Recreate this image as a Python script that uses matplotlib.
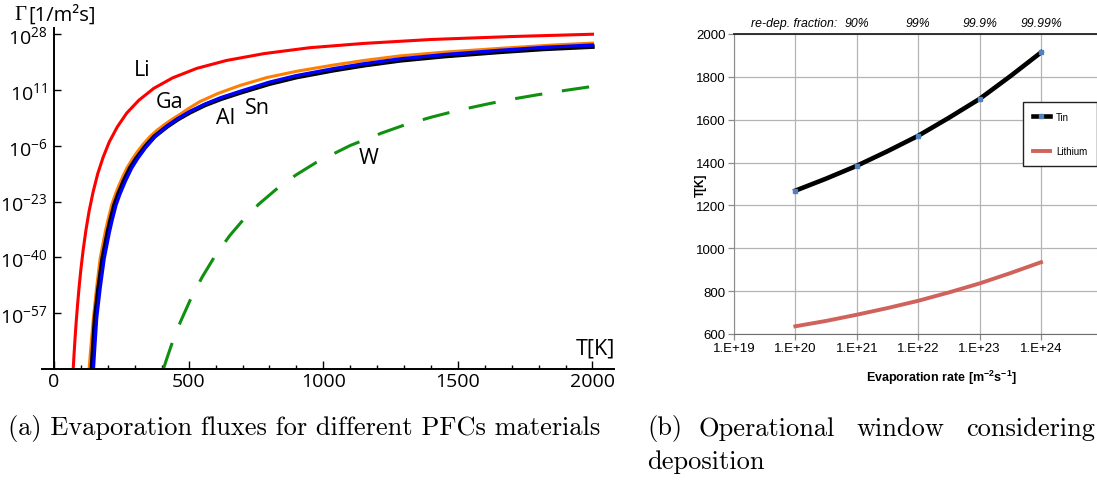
import numpy as np
import matplotlib.pyplot as plt
from matplotlib.ticker import FixedLocator, NullLocator, FuncFormatter
from matplotlib.lines import Line2D

# ---- (a) evaporation fluxes, log10(Gamma [1/m^2 s]) vs T [K]
li_T = [71, 74, 78, 82, 87, 93, 100, 108, 118, 130, 145, 162, 182, 205, 235,
        270, 315, 370, 440, 530, 640, 780, 950, 1150, 1400, 1700, 2000]
li_logG = [-73.9, -69.6, -64.4, -59.7, -54.5, -48.9, -43.25, -37.7, -31.8, -25.9, -20.0, -14.5,
           -9.5, -4.8, -0.2, 4.0, 7.9, 11.5, 14.7, 17.6, 20.0, 22.1, 23.9, 25.2, 26.4, 27.3, 28.0]

ga_T = [130, 137, 146, 157, 171, 190, 200, 214, 227, 240, 255, 270, 290, 310, 330, 356, 380,
        410, 440, 468, 500, 542, 610, 691, 790, 900, 1037, 1150, 1285, 1450, 1656, 1850, 2000]
ga_logG = [-74, -66.8, -58.5, -49.8, -40.3, -32.2, -28.6, -24, -20.9, -18.2, -15.4, -12.8, -10.1,
           -7.7, -5.6, -3.2, -1.4, 0.5, 2.2, 3.6, 5.4, 7.5, 10.0, 12.4, 14.8, 16.7, 18.6, 20.0,
           21.4, 22.55, 23.7, 24.7, 25.3]

al_T = [146, 150, 158, 171, 186, 205, 215, 230, 245, 265, 288, 310, 340, 375, 420,
        460, 505, 560, 620, 691, 800, 900, 1037, 1150, 1285, 1450, 1656, 1820, 2000]
al_logG = [-74, -68.6, -58.5, -49.3, -40.3, -32.4, -28.8, -24, -20.6, -16.7, -12.8, -9.9, -6.5,
           -3.2, 0.0, 2.3, 4.5, 6.7, 8.7, 10.6, 13.4, 15.4, 17.5, 19.0, 20.5, 21.8, 23.1, 24.0, 24.7]

sn_T = [140, 144, 152, 165, 180, 199, 209, 224, 239, 259, 282, 305, 336, 372, 420,
        460, 505, 560, 620, 691, 800, 900, 1037, 1150, 1285, 1450, 1656, 1820, 2000]
sn_logG = [-74, -68.6, -58.5, -49.3, -40.3, -32.4, -28.8, -24, -20.6, -16.7, -12.8, -9.9, -6.5,
           -3.2, -0.1, 2.1, 4.2, 6.4, 8.3, 10.2, 12.9, 14.9, 17.0, 18.5, 20.0, 21.3, 22.6, 23.5, 24.2]

w_T = [406, 420, 443, 470, 511, 550, 598, 653, 703, 760, 833, 900, 975, 1100, 1217,
       1300, 1400, 1500, 1619, 1700, 1792, 1900, 2000]
w_logG = [-74, -70.5, -65, -59.5, -52, -46, -39.5, -33.3, -28.5, -23.8, -18.7, -14.8, -11, -5.9, -2.1,
          0.3, 2.7, 4.8, 6.9, 8.2, 9.5, 10.9, 12.1]

flux_ticks = [28, 11, -6, -23, -40, -57]
temp_ticks = [0, 500, 1000, 1500, 2000]

# ---- (b) operational window, T [K] vs log10(evaporation rate)
rate_exp = [20, 20.5, 21, 21.5, 22, 22.5, 23, 23.5, 24]
tin_T = [1269, 1325, 1385, 1453, 1525, 1609, 1697, 1803, 1914]
lithium_T = [636, 661, 690, 721, 755, 794, 836, 884, 935]
rate_ticks = [19, 20, 21, 22, 23, 24]
frac_exp = [21, 22, 23, 24]
frac_labels = ["90%", "99%", "99.9%", "99.99%"]

W, H = 1097, 481
fig = plt.figure(figsize=(W / 100, H / 100), dpi=100)
sans = ["Open Sans", "DejaVu Sans"]
arial = ["Liberation Sans", "DejaVu Sans"]

# ================= panel (a)
axa = fig.add_axes([42 / W, 1 - 370 / H, (614 - 42) / W, (370 - 29) / H])
axa.set_yscale("log")
pw = lambda v: 10.0 ** np.array(v)
axa.plot(li_T, pw(li_logG), color="#ff0000", lw=2.2)
axa.plot(ga_T, pw(ga_logG), color="#ff8000", lw=2.2)
axa.plot(sn_T, pw(sn_logG), color="black", lw=3.2)
axa.plot(al_T, pw(al_logG), color="#0000ff", lw=2.4)
axa.plot(w_T, pw(w_logG), color="#109010", lw=2.2, dashes=(9, 6.5))
axa.set_xlim(-45, 2080)
axa.set_ylim(10.0 ** -74, 10.0 ** 29.9)

for s in ["top", "right"]:
    axa.spines[s].set_visible(False)
axa.spines["left"].set_position(("data", 0))
axa.spines["left"].set_linewidth(1.4)
axa.spines["bottom"].set_linewidth(1.4)

axa.yaxis.set_major_locator(FixedLocator([10.0 ** e for e in flux_ticks]))
axa.yaxis.set_minor_locator(NullLocator())
axa.yaxis.set_major_formatter(FuncFormatter(
    lambda v, p: r"$\mathregular{10^{%d}}$" % round(np.log10(v))))
axa.set_xticks(temp_ticks)
axa.set_xticks(np.arange(100, 2001, 100), minor=True)
axa.tick_params(axis="both", which="both", direction="in")
axa.tick_params(axis="y", length=5, width=1, pad=5)
axa.tick_params(axis="x", which="major", length=6, width=1, pad=2)
axa.tick_params(axis="x", which="minor", length=3, width=1)
for lab in axa.get_xticklabels() + axa.get_yticklabels():
    lab.set_family(sans)
    lab.set_fontsize(14)

fig.text(14 / W, 1 - 16 / H, "Γ", family=["Liberation Serif", "DejaVu Serif"],
         fontsize=15, va="center", ha="left")
fig.text(28 / W, 1 - 16 / H, "[1/m²s]", family=sans, fontsize=14.5, va="center", ha="left")

for txt, x, y in [("Li", 142, 71), ("Ga", 170, 103), ("Al", 226, 119),
                  ("Sn", 257, 109), ("W", 369, 159), ("T[K]", 595, 349)]:
    fig.text(x / W, 1 - y / H, txt, family=sans, fontsize=15.5, ha="center", va="center")

# ================= panel (b)
axb = fig.add_axes([734 / W, 1 - 335 / H, 368.4 / W, 300 / H])
axb.set_xscale("log")
axb.set_xlim(1e19, 1e25)
axb.set_ylim(600, 2000)
rates = 10.0 ** np.array(rate_exp)
axb.plot(rates, lithium_T, color="#d0625c", lw=2.8, zorder=3)
axb.plot(rates, tin_T, color="black", lw=3.3, zorder=4)
axb.plot(rates[::2], tin_T[::2], ls="none", marker="s", ms=3.2, color="#4f81bd", zorder=5)

axb.set_xticks([10.0 ** e for e in rate_ticks])
axb.xaxis.set_minor_locator(NullLocator())
axb.xaxis.set_major_formatter(FuncFormatter(lambda v, p: "1.E+%d" % round(np.log10(v))))
axb.set_yticks(np.arange(600, 2001, 200))
axb.grid(True, color="#b4b4b4", lw=0.9)
axb.set_axisbelow(True)
axb.spines["right"].set_visible(False)
axb.spines["top"].set_color("#222222")
axb.spines["top"].set_linewidth(1.3)
axb.spines["left"].set_color("#8c8c8c")
axb.spines["bottom"].set_color("#6e6e6e")
axb.tick_params(axis="both", direction="out", length=4, color="#8c8c8c", width=0.9,
                labelsize=9.5, pad=2)
for lab in axb.get_xticklabels() + axb.get_yticklabels():
    lab.set_family(arial)

fig.text(941 / W, 1 - 378 / H, "Evaporation rate [m$^{\\mathregular{-2}}$s$^{\\mathregular{-1}}$]",
         family=arial, fontsize=9, weight="bold", ha="center", va="center")
fig.text(701 / W, 1 - 185 / H, "T[K]", family=arial,
         fontsize=8.5, weight="bold", rotation=90, ha="center", va="center")

fig.text(794 / W, 1 - 24 / H, "re-dep. fraction:", family=arial,
         fontsize=8.8, style="italic", ha="center", va="center")
for e, lab in zip(frac_exp, frac_labels):
    axb.text(10.0 ** e, 2000 + 1400 * 11 / 300, lab, family=arial,
             fontsize=8.8, style="italic", ha="center", va="center")

handles = [Line2D([], [], color="black", lw=3.3, marker="s", ms=2.5,
                  markerfacecolor="#4f81bd", markeredgecolor="#4f81bd"),
           Line2D([], [], color="#d0625c", lw=2.8)]
leg = fig.legend(handles, ["Tin", "Lithium"], loc="upper left",
                 bbox_to_anchor=(1023 / W, 1 - 103 / H), prop={"family": "Liberation Sans", "size": 7},
                 frameon=True, fancybox=False, edgecolor="#222222", framealpha=1,
                 handlelength=1.8, handletextpad=0.6, labelspacing=2.5, borderpad=1.0,
                 borderaxespad=0)
leg.get_frame().set_linewidth(1.0)

# ================= captions
cm = "cmr10"
fig.text(8 / W, 1 - 429 / H, "(a) Evaporation fluxes for different PFCs materials",
         family=cm, fontsize=19, ha="left", va="center")
for word, x in [("(b)", 647), ("Operational", 698), ("window", 856), ("considering", 966)]:
    fig.text(x / W, 1 - 429 / H, word, family=cm, fontsize=19, ha="left", va="center")
fig.text(647 / W, 1 - 462 / H, "deposition", family=cm, fontsize=19, ha="left", va="center")

fig.savefig("out.png", dpi=100)
